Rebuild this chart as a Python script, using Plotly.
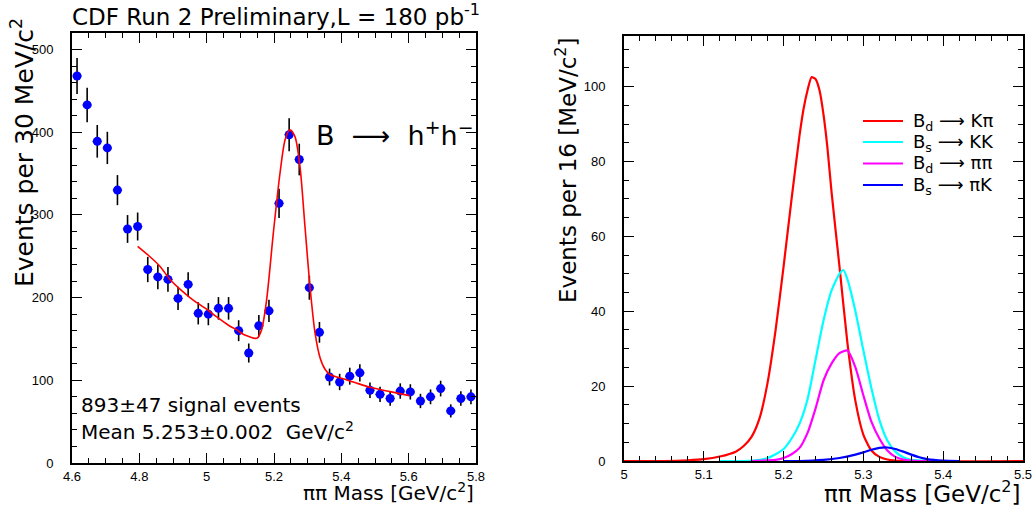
import numpy as np
import plotly.graph_objects as go

# ---------------- left panel data ----------------
mass_centers = [4.615 + 0.03 * i for i in range(40)]
events = [468, 433, 389, 381, 330, 283, 286, 234, 225, 222,
          199, 216, 181, 180, 187, 187, 160, 133, 166, 184,
          314, 397, 367, 212, 158, 104, 98, 105, 109, 88,
          83, 78, 87, 86, 75, 80, 90, 63, 78, 80]
event_err = [float(np.sqrt(v)) for v in events]

fit_x = [4.795, 4.83, 4.861, 4.891, 4.93, 4.96, 5.0, 5.029, 5.067, 5.09,
         5.107, 5.125, 5.14, 5.15, 5.163, 5.178, 5.198, 5.218, 5.233, 5.247,
         5.262, 5.277, 5.292, 5.307, 5.322, 5.337, 5.352, 5.366, 5.386, 5.416,
         5.45, 5.485, 5.545, 5.602]
fit_y = [262, 250, 238, 222, 207, 197, 186, 177, 166, 161,
         156, 153, 151, 151, 161, 197, 278, 351, 391, 403,
         395, 359, 286, 213, 157, 127, 113, 107, 104, 100.5,
         96, 91.6, 86.3, 81.5]

# ---------------- right panel data ----------------
kpi_x = [5.0, 5.05, 5.08, 5.10, 5.12, 5.14, 5.15, 5.16, 5.17, 5.18, 5.19, 5.20,
         5.21, 5.22, 5.225, 5.23, 5.235, 5.24, 5.245, 5.25, 5.255, 5.26, 5.27, 5.28,
         5.29, 5.30, 5.31, 5.32, 5.33, 5.35, 5.5]
kpi_y = [0, 0, 0.2, 0.5, 1.2, 2.5, 4, 6.5, 11.5, 21, 35, 52,
         70, 87, 94, 99, 102.5, 102, 99, 92.5, 83.5, 72, 52, 31.5,
         16, 7, 2.8, 1.1, 0.4, 0, 0]

kk_x = [5.12, 5.15, 5.17, 5.18, 5.19, 5.20, 5.21, 5.22, 5.23, 5.24, 5.25, 5.26,
        5.27, 5.275, 5.28, 5.29, 5.30, 5.31, 5.32, 5.33, 5.34, 5.35, 5.36, 5.38, 5.40]
kk_y = [0, 0, 0.3, 0.8, 1.8, 3.2, 6, 10, 16.5, 27, 37.5, 45.5,
        50, 51, 48.5, 40, 29.5, 19.5, 11, 5.5, 2.5, 1, 0.3, 0, 0]

pipi_x = [5.16, 5.19, 5.20, 5.21, 5.22, 5.23, 5.24, 5.25, 5.26, 5.27, 5.28, 5.29,
          5.30, 5.31, 5.32, 5.33, 5.34, 5.35, 5.37, 5.40]
pipi_y = [0, 0.3, 0.8, 1.8, 3.5, 7.5, 14, 21.5, 26, 28.8, 29.5, 25,
          17.5, 10.5, 6, 2.8, 1.1, 0.4, 0, 0]

pik_x = [5.20, 5.22, 5.25, 5.27, 5.29, 5.30, 5.31, 5.32, 5.33, 5.34, 5.35,
         5.36, 5.37, 5.38, 5.40, 5.42]
pik_y = [0, 0, 0.3, 0.8, 1.7, 2.3, 3.0, 3.5, 3.6, 3.2, 2.5,
         1.7, 1.0, 0.5, 0.1, 0]

legend_names = ["B<sub>d</sub>", "B<sub>s</sub>", "B<sub>d</sub>", "B<sub>s</sub>"]
legend_finals = ["K\u03c0", "KK", "\u03c0\u03c0", "\u03c0K"]
legend_colors = ["#ff0000", "#00ffff", "#ff00ff", "#0000ff"]

FONT = "DejaVu Sans"
TICKFONT = "Liberation Sans"
NB = "\u00a0"
ARROW = "\u27f6"

W, H = 1035, 510


def px(x):
    return x / W


def py(y):
    return 1 - y / H


fig = go.Figure()

# left: data with error bars
fig.add_trace(go.Scatter(
    x=mass_centers, y=events, mode="markers",
    marker=dict(color="#0000ff", size=9, symbol="circle"),
    error_y=dict(type="data", array=event_err, visible=True, color="black",
                 thickness=1.6, width=0),
    error_x=dict(type="constant", value=0.014, visible=True, color="#555555",
                 thickness=1, width=0),
    showlegend=False, xaxis="x", yaxis="y"))
fig.add_trace(go.Scatter(
    x=fit_x, y=fit_y, mode="lines",
    line=dict(color="#ff0000", width=1.6, shape="spline", smoothing=0.8),
    showlegend=False, xaxis="x", yaxis="y"))

# right: templates
series = [(kpi_x, kpi_y), (kk_x, kk_y), (pipi_x, pipi_y), (pik_x, pik_y)]
for (sx, sy), col, nm, fin in zip(series, legend_colors, legend_names, legend_finals):
    fig.add_trace(go.Scatter(
        x=sx, y=sy, mode="lines", name=nm + " " + fin,
        line=dict(color=col, width=2.2, shape="spline", smoothing=0.6),
        showlegend=False, xaxis="x2", yaxis="y2"))

axis_common = dict(showline=True, linecolor="black", linewidth=2, mirror="allticks",
                   ticks="inside", ticklen=10, tickwidth=1.2, tickcolor="black",
                   showgrid=False, zeroline=False, automargin=False,
                   tickfont=dict(family=TICKFONT, size=13, color="black"))

annotations = [
    dict(text="CDF Run 2 Preliminary,L = 180 pb<sup>-1</sup>", x=px(70), y=py(15),
         xanchor="left", yanchor="middle", font=dict(family=FONT, size=23)),
    dict(text="Events per 30 MeV/c<sup>2</sup>", x=px(22), y=py(153),
         xanchor="center", yanchor="middle", textangle=-90,
         font=dict(family=FONT, size=25)),
    dict(text="\u03c0\u03c0 Mass [GeV/c<sup>2</sup>]", x=px(476), y=py(492),
         xanchor="right", yanchor="middle", font=dict(family=FONT, size=20)),
    dict(text="B" + NB * 2 + ARROW + NB * 2 + "h<sup>+</sup>h<sup>\u2212</sup>",
         x=px(314), y=py(134), xanchor="left", yanchor="middle",
         font=dict(family=FONT, size=27)),
    dict(text="893\u00b147 signal events", x=px(79), y=py(405),
         xanchor="left", yanchor="middle", font=dict(family=FONT, size=20)),
    dict(text="Mean 5.253\u00b10.002" + NB * 2 + "GeV/c<sup>2</sup>", x=px(79), y=py(431),
         xanchor="left", yanchor="middle", font=dict(family=FONT, size=20)),
    dict(text="Events per 16 [MeV/c<sup>2</sup>]", x=px(566), y=py(170),
         xanchor="center", yanchor="middle", textangle=-90,
         font=dict(family=FONT, size=23)),
    dict(text="\u03c0\u03c0 Mass [GeV/c<sup>2</sup>]", x=px(1023), y=py(492),
         xanchor="right", yanchor="middle", font=dict(family=FONT, size=23)),
]

shapes = []
row_y = [121, 142, 163.5, 185]
for i, (nm, fin, col) in enumerate(zip(legend_names, legend_finals, legend_colors)):
    shapes.append(dict(type="line", xref="paper", yref="paper",
                       x0=px(863), x1=px(903), y0=py(row_y[i]), y1=py(row_y[i]),
                       line=dict(color=col, width=2.2)))
    annotations.append(dict(text=nm + NB + ARROW + NB + fin, x=px(911), y=py(row_y[i] + 1),
                            xanchor="left", yanchor="middle",
                            font=dict(family=FONT, size=18)))

for a in annotations:
    a.update(xref="paper", yref="paper", showarrow=False)

fig.update_layout(
    width=W, height=H,
    margin=dict(l=0, r=0, t=0, b=0),
    paper_bgcolor="white", plot_bgcolor="white",
    font=dict(family=FONT, color="black"),
    showlegend=False,
    xaxis=dict(domain=[px(72), px(476)], range=[4.6, 5.8], dtick=0.2,
               minor=dict(dtick=0.05, ticks="inside", ticklen=5, tickcolor="black"),
               anchor="y", ticklabelstandoff=0, **axis_common),
    yaxis=dict(domain=[1 - 463 / H, 1 - 33 / H], range=[0, 520], dtick=100,
               minor=dict(dtick=20, ticks="inside", ticklen=5, tickcolor="black"),
               anchor="x", ticklabelstandoff=14, **axis_common),
    xaxis2=dict(domain=[px(624), px(1023)], range=[5.0, 5.5], dtick=0.1,
                minor=dict(dtick=0.02, ticks="inside", ticklen=5, tickcolor="black"),
                anchor="y2", ticklabelstandoff=0, **axis_common),
    yaxis2=dict(domain=[1 - 461 / H, 1 - 36 / H], range=[0, 113.5], dtick=20,
                minor=dict(dtick=5, ticks="inside", ticklen=5, tickcolor="black"),
                anchor="x2", ticklabelstandoff=14, **axis_common),
    annotations=annotations,
    shapes=shapes,
)

fig.write_html("out.html", config={"displayModeBar": False},
               post_script="document.body.style.margin='0';")
